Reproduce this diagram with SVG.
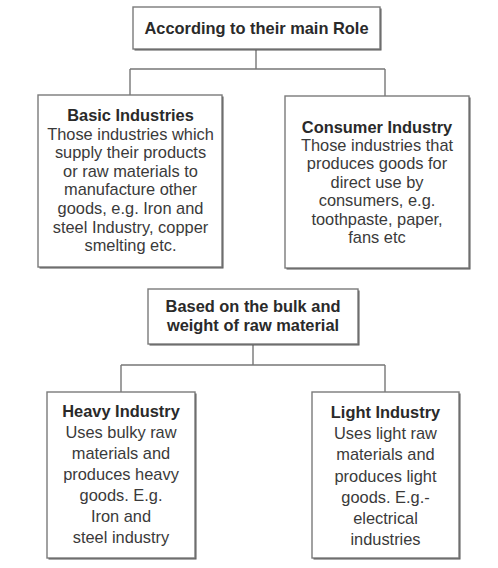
<svg xmlns="http://www.w3.org/2000/svg" width="498" height="568" viewBox="0 0 498 568">
<style>
.bg{fill:#ffffff}
.sh{fill:#555555}
.box{fill:#ffffff;stroke:#7a7a7a;stroke-width:1.4}
.t{font-family:"Liberation Sans",Arial,sans-serif;font-size:16.4px;fill:#3a3a3a;text-anchor:middle}
.b{font-weight:bold;fill:#2a2a2a}
.c{stroke:#777777;stroke-width:1.4;fill:none}
</style>
<rect class="bg" x="0" y="0" width="498" height="568"/>
<g id="connectors">
<path class="c" d="M256,49 V69 M130,69 H385 M130,69 V95 M385,69 V96"/>
<path class="c" d="M253,344 V365 M121,365 H385 M121,365 V392 M385,365 V392"/>
</g>
<g id="role">
<rect class="sh" x="134.5" y="8.5" width="247" height="42"/>
<rect class="box" x="133" y="7" width="247" height="42"/>
<text class="t b" x="256.5" y="34">According to their main Role</text>
</g>
<g id="basic">
<rect class="sh" x="39.5" y="96.5" width="184" height="172"/>
<rect class="box" x="38" y="95" width="184" height="172"/>
<text class="t" x="130.5" y="121"><tspan class="b" x="130.5">Basic Industries</tspan><tspan x="130.5" dy="18.6">Those industries which</tspan><tspan x="130.5" dy="18.6">supply their products</tspan><tspan x="130.5" dy="18.6">or raw materials to</tspan><tspan x="130.5" dy="18.6">manufacture other</tspan><tspan x="130.5" dy="18.6">goods, e.g. Iron and</tspan><tspan x="130.5" dy="18.6">steel Industry, copper</tspan><tspan x="130.5" dy="18.6">smelting etc.</tspan></text>
</g>
<g id="consumer">
<rect class="sh" x="286.5" y="97.5" width="184" height="172"/>
<rect class="box" x="285" y="96" width="184" height="172"/>
<text class="t" x="377" y="132.5"><tspan class="b" x="377">Consumer Industry</tspan><tspan x="377" dy="18.4">Those industries that</tspan><tspan x="377" dy="18.4">produces goods for</tspan><tspan x="377" dy="18.4">direct use by</tspan><tspan x="377" dy="18.4">consumers, e.g.</tspan><tspan x="377" dy="18.4">toothpaste, paper,</tspan><tspan x="377" dy="18.4">fans etc</tspan></text>
</g>
<g id="bulk">
<rect class="sh" x="149.5" y="290.5" width="210" height="55"/>
<rect class="box" x="148" y="289" width="210" height="55"/>
<text class="t b" x="253" y="311.5"><tspan x="253">Based on the bulk and</tspan><tspan x="253" dy="19">weight of raw material</tspan></text>
</g>
<g id="heavy">
<rect class="sh" x="48.5" y="393.5" width="148" height="166"/>
<rect class="box" x="47" y="392" width="148" height="166"/>
<text class="t" x="121" y="417"><tspan class="b" x="121">Heavy Industry</tspan><tspan x="121" dy="21">Uses bulky raw</tspan><tspan x="121" dy="21">materials and</tspan><tspan x="121" dy="21">produces heavy</tspan><tspan x="121" dy="21">goods. E.g.</tspan><tspan x="121" dy="21">Iron and</tspan><tspan x="121" dy="21">steel industry</tspan></text>
</g>
<g id="light">
<rect class="sh" x="313.5" y="393.5" width="147" height="166"/>
<rect class="box" x="312" y="392" width="147" height="166"/>
<text class="t" x="385.5" y="418"><tspan class="b" x="385.5">Light Industry</tspan><tspan x="385.5" dy="21.2">Uses light raw</tspan><tspan x="385.5" dy="21.2">materials and</tspan><tspan x="385.5" dy="21.2">produces light</tspan><tspan x="385.5" dy="21.2">goods. E.g.-</tspan><tspan x="385.5" dy="21.2">electrical</tspan><tspan x="385.5" dy="21.2">industries</tspan></text>
</g>
</svg>
